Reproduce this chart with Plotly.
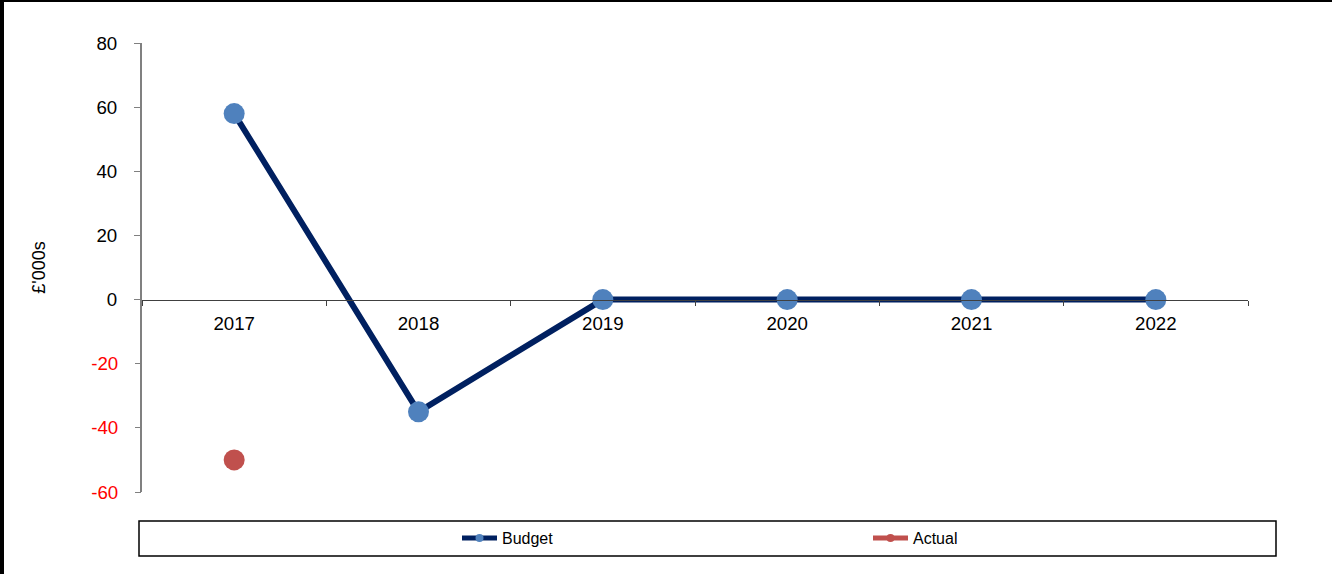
import plotly.graph_objects as go

# Financial years and values (£'000s)
years = ["2017", "2018", "2019", "2020", "2021", "2022"]
budget = [58, -35, 0, 0, 0, 0]
actual = [-50, None, None, None, None, None]

y_ticks = [80, 60, 40, 20, 0, -20, -40, -60]
y_tick_text = [str(v) for v in y_ticks]

NAVY = "#002060"
BUDGET_MARKER = "#4F81BD"
ACTUAL_RED = "#C0504D"
FONT = "Liberation Sans, Arial, sans-serif"
TICK_SIZE = 18.7

W, H = 1332, 574
L, R, T, B = 142, 84, 43, 82
plot_w = W - L - R
plot_h = H - T - B
y_min, y_max = -60, 80


def px_x(px):
    return (px - L) / plot_w


def px_y(py):
    return (H - B - py) / plot_h


fig = go.Figure()

fig.add_trace(go.Scatter(
    x=years, y=budget, mode="lines+markers", name="Budget",
    line=dict(color=NAVY, width=6),
    marker=dict(color=BUDGET_MARKER, size=21),
    showlegend=False,
))
fig.add_trace(go.Scatter(
    x=years, y=actual, mode="lines+markers", name="Actual",
    line=dict(color=ACTUAL_RED, width=6),
    marker=dict(color=ACTUAL_RED, size=21),
    showlegend=False,
))

# Legend keys with compact symbols
fig.add_trace(go.Scatter(
    x=[None], y=[None], mode="lines+markers", name="Budget",
    line=dict(color=NAVY, width=5), marker=dict(color=BUDGET_MARKER, size=8),
))
fig.add_trace(go.Scatter(
    x=[None], y=[None], mode="lines+markers", name="Actual",
    line=dict(color=ACTUAL_RED, width=5), marker=dict(color=ACTUAL_RED, size=8),
))

zero_pos = (0 - y_min) / (y_max - y_min)

fig.update_layout(
    width=W, height=H,
    margin=dict(l=L, r=R, t=T, b=B, pad=0),
    paper_bgcolor="white", plot_bgcolor="white",
    font=dict(family=FONT, size=16, color="black"),
    xaxis=dict(
        type="category", categoryorder="array", categoryarray=years,
        range=[-0.5, len(years) - 0.5],
        anchor="free", position=zero_pos,
        showline=True, linecolor="#404040", linewidth=1,
        ticks="outside", ticklen=5, tickcolor="#404040", tickwidth=1,
        tickson="boundaries", ticklabelstandoff=7,
        showgrid=False, zeroline=False,
        tickfont=dict(size=TICK_SIZE, color="black"),
    ),
    yaxis=dict(
        range=[y_min, y_max],
        tickvals=[v for v in y_ticks if v >= 0],
        ticktext=[t for v, t in zip(y_ticks, y_tick_text) if v >= 0],
        showline=True, linecolor="#808080", linewidth=2,
        ticks="outside", ticklen=6, tickcolor="#808080", tickwidth=1,
        ticklabelstandoff=13,
        showgrid=False, zeroline=False,
        tickfont=dict(size=TICK_SIZE, color="black"),
        title=dict(text="£'000s", font=dict(size=18), standoff=46),
    ),
    # Negative tick labels in red on an overlaid axis
    yaxis2=dict(
        overlaying="y", side="left", range=[y_min, y_max],
        tickvals=[v for v in y_ticks if v < 0],
        ticktext=[t for v, t in zip(y_ticks, y_tick_text) if v < 0],
        tickfont=dict(size=TICK_SIZE, color="red"),
        ticks="outside", ticklen=6, tickcolor="#808080", tickwidth=1,
        ticklabelstandoff=13,
        showline=False, showgrid=False, zeroline=False,
    ),
    legend=dict(
        orientation="h", x=px_x(457), xanchor="left",
        y=px_y(538), yanchor="middle",
        bgcolor="rgba(0,0,0,0)", borderwidth=0,
        font=dict(size=16, color="black"),
        entrywidth=361, entrywidthmode="pixels",
        itemwidth=35,
    ),
    shapes=[
        # legend frame
        dict(type="rect", xref="paper", yref="paper",
             x0=px_x(139), x1=px_x(1276), y0=px_y(556), y1=px_y(521),
             line=dict(color="black", width=1.5), fillcolor="rgba(0,0,0,0)"),
        # outer border: left and top
        dict(type="line", xref="paper", yref="paper",
             x0=px_x(2), x1=px_x(2), y0=px_y(H), y1=px_y(0),
             line=dict(color="black", width=4)),
        dict(type="line", xref="paper", yref="paper",
             x0=px_x(0), x1=px_x(W), y0=px_y(1), y1=px_y(1),
             line=dict(color="black", width=2)),
    ],
)

fig.add_trace(go.Scatter(x=[None], y=[None], showlegend=False, yaxis="y2"))

fig.write_html("out.html")
